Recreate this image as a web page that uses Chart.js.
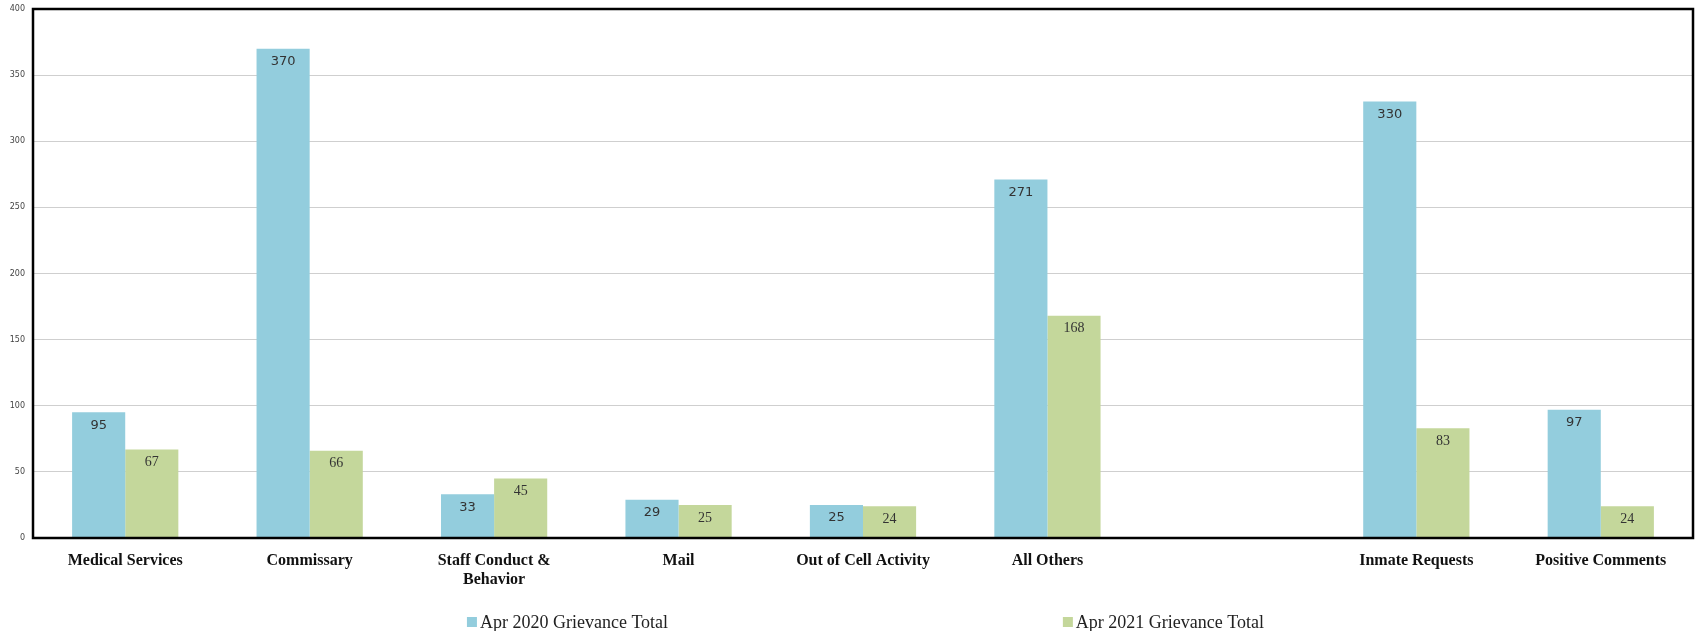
<!DOCTYPE html>
<html>
<head>
<meta charset="utf-8">
<script src="https://cdn.jsdelivr.net/npm/chart.js@4.4.1/dist/chart.umd.min.js"></script>
<style>
  html, body { margin: 0; padding: 0; background: #fff; }
  #wrap { width: 1698px; height: 631px; }
</style>
</head>
<body>
<div id="wrap"><canvas id="chart"></canvas></div>
<script>
// categories (one empty slot between All Others and Inmate Requests, as in the source)
const categories = [
    'Medical Services',
    'Commissary',
    ['Staff Conduct &', 'Behavior'],
    'Mail',
    'Out of Cell Activity',
    'All Others',
    '',
    'Inmate Requests',
    'Positive Comments'
];
const apr2020 = [95, 370, 33, 29, 25, 271, null, 330, 97];
const apr2021 = [67, 66, 45, 25, 24, 168, null, 83, 24];
const yTicks = [0, 50, 100, 150, 200, 250, 300, 350, 400];

const BLUE = '#93CDDD';
const GREEN = '#C4D79B';

// value labels inside the top of each bar
const barLabels = {
    id: 'barLabels',
    afterDatasetsDraw(chart) {
        const ctx = chart.ctx;
        ctx.save();
        ctx.textAlign = 'center';
        ctx.textBaseline = 'middle';
        chart.data.datasets.forEach((ds, i) => {
            ctx.font = i === 0 ? '13px "DejaVu Sans"' : '14px "Liberation Serif"';
            ctx.fillStyle = '#333';
            chart.getDatasetMeta(i).data.forEach((bar, j) => {
                const v = ds.data[j];
                if (v == null) return;
                ctx.fillText(String(v), bar.x, bar.y + 13);
            });
        });
        ctx.restore();
    }
};

// black frame round the plot area
const frame = {
    id: 'frame',
    afterDraw(chart) {
        const a = chart.chartArea;
        const ctx = chart.ctx;
        ctx.save();
        ctx.strokeStyle = '#000';
        ctx.lineWidth = 2.5;
        ctx.strokeRect(a.left, a.top, a.right - a.left, a.bottom - a.top);
        ctx.restore();
    }
};

// legend: two items spread apart under the plot
const spreadLegend = {
    id: 'spreadLegend',
    afterDraw(chart) {
        const a = chart.chartArea;
        const ctx = chart.ctx;
        const mid = (a.left + a.right) / 2;
        const w = a.right - a.left;
        const centers = [mid - 0.178 * w, mid + 0.181 * w];
        const y = 622;
        ctx.save();
        ctx.font = '18px "Liberation Serif"';
        ctx.textBaseline = 'middle';
        ctx.textAlign = 'left';
        chart.data.datasets.forEach((ds, i) => {
            const tw = ctx.measureText(ds.label).width;
            const box = 10;
            const total = box + 3 + tw;
            const x0 = centers[i] - total / 2;
            ctx.fillStyle = ds.backgroundColor;
            ctx.fillRect(x0, y - box / 2, box, box);
            ctx.fillStyle = '#222';
            ctx.fillText(ds.label, x0 + box + 3, y + 1);
        });
        ctx.restore();
    }
};

new Chart(document.getElementById('chart'), {
    type: 'bar',
    data: {
        labels: categories,
        datasets: [
            { label: 'Apr 2020 Grievance Total', data: apr2020, backgroundColor: BLUE },
            { label: 'Apr 2021 Grievance Total', data: apr2021, backgroundColor: GREEN }
        ]
    },
    options: {
        responsive: true,
        maintainAspectRatio: false,
        animation: false,
        layout: { padding: { top: 9, right: 5, left: 0, bottom: 0 } },
        datasets: {
            bar: { categoryPercentage: 0.576, barPercentage: 1.0 }
        },
        plugins: {
            legend: { display: false },
            tooltip: { enabled: false },
            title: { display: false }
        },
        scales: {
            x: {
                grid: { display: false },
                border: { display: false },
                ticks: {
                    color: '#111',
                    font: { family: 'Liberation Serif', size: 16, weight: 'bold', lineHeight: 1.15 },
                    padding: 6,
                    maxRotation: 0,
                    autoSkip: false
                },
                afterFit(scale) {
                    scale.height = 93;
                    scale.paddingLeft = 0;
                    scale.paddingRight = 0;
                }
            },
            y: {
                min: 0,
                max: 400,
                afterBuildTicks(scale) { scale.ticks = yTicks.map(v => ({ value: v })); },
                grid: { color: '#cfcfcf', lineWidth: 1, drawTicks: false },
                border: { display: false },
                ticks: {
                    color: '#444',
                    font: { family: 'DejaVu Sans', size: 8 },
                    padding: 8
                },
                afterFit(scale) {
                    scale.width = 33;
                    scale.paddingTop = 0;
                    scale.paddingBottom = 0;
                }
            }
        }
    },
    plugins: [barLabels, frame, spreadLegend]
});
</script>
</body>
</html>
